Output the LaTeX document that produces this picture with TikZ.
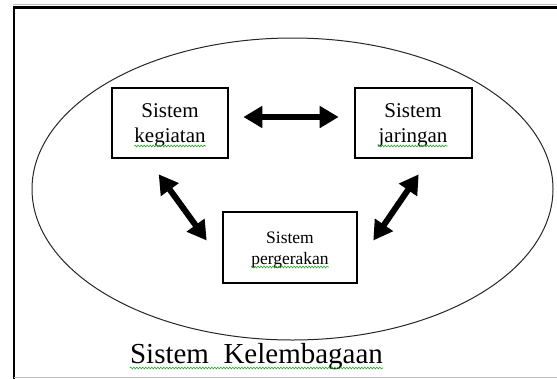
\documentclass[tikz,border=0pt]{standalone}
\usepackage{fontspec}
\setmainfont{Liberation Serif}
\usetikzlibrary{arrows.meta,calc,decorations.pathmorphing,shapes.geometric}

\definecolor{spellgreen}{RGB}{40,170,40}

\tikzset{
  frameline/.style={line width=2.6pt, black},
  sysbox/.style={draw, line width=2.6pt, rectangle, inner sep=0pt},
  word/.style={inner sep=0pt, anchor=base},
  bigword/.style={word, font=\fontsize{21}{25}\selectfont},
  smallword/.style={word, font=\fontsize{17.5}{21}\selectfont},
  titleword/.style={word, font=\fontsize{29}{34}\selectfont},
  spell/.style={spellgreen, line width=0.6pt,
    decorate, decoration={snake, amplitude=0.9pt, segment length=3pt}},
  link/.style={line width=6pt,
    {Triangle[length=19pt,width=21pt]}-{Triangle[length=19pt,width=21pt]}}
}

\begin{document}
\begin{tikzpicture}[x=1pt, y=-1pt]
  \useasboundingbox (0,0) rectangle (557,378);
  \clip (0,0) rectangle (557,378);

  % page frame
  \draw[black!25, line width=0.8pt] (13,4) -- (557,4);
  \draw[frameline] (14,390) |- (580,7.5);
  \draw[black!25, line width=1pt] (14,377.5) -- (557,377.5);

  % enclosing ellipse
  \node[draw, ellipse, line width=1pt, black!85, minimum width=521pt,
        minimum height=302pt, inner sep=0pt] (inst) at (292.5,189) {};

  % three subsystems
  \node[sysbox, minimum width=116pt, minimum height=70pt] (kg) at (170,123) {};
  \node[sysbox, minimum width=117pt, minimum height=70pt] (jr) at (413.5,123) {};
  \node[sysbox, minimum width=134pt, minimum height=71pt] (pg) at (290,247.5) {};

  \node[bigword] (kgA) at (170,117) {Sistem};
  \node[bigword] (kgB) at (170,142) {kegiatan};
  \node[bigword] (jrA) at (413,117) {Sistem};
  \node[bigword] (jrB) at (413,142) {jaringan};
  \node[smallword] (pgA) at (290,243) {Sistem};
  \node[smallword] (pgB) at (290,264) {pergerakan};

  \node[titleword] (title) at (256.5,363) {Sistem\ \ Kelembagaan};

  % spelling marks
  \draw[spell] ([yshift=-4pt]kgB.base west) -- ([yshift=-4pt]kgB.base east);
  \draw[spell] ([yshift=-4pt]jrB.base west) -- ([yshift=-4pt]jrB.base east);
  \draw[spell] ([yshift=-3pt]pgB.base west) -- ([yshift=-3pt]pgB.base east);
  \draw[spell] ([yshift=-5pt]title.base west) -- ([yshift=-5pt]title.base east);

  % interactions
  \draw[link] ($(kg.east)+(14,-6)$) -- ($(jr.west)+(-15,-6)$);
  \draw[link] ($(kg.south west)+(48,15)$) -- ($(pg.west)+(-15,-7)$);
  \draw[link] ($(jr.south west)+(65,15)$) -- ($(pg.east)+(15,-7)$);
\end{tikzpicture}
\end{document}
